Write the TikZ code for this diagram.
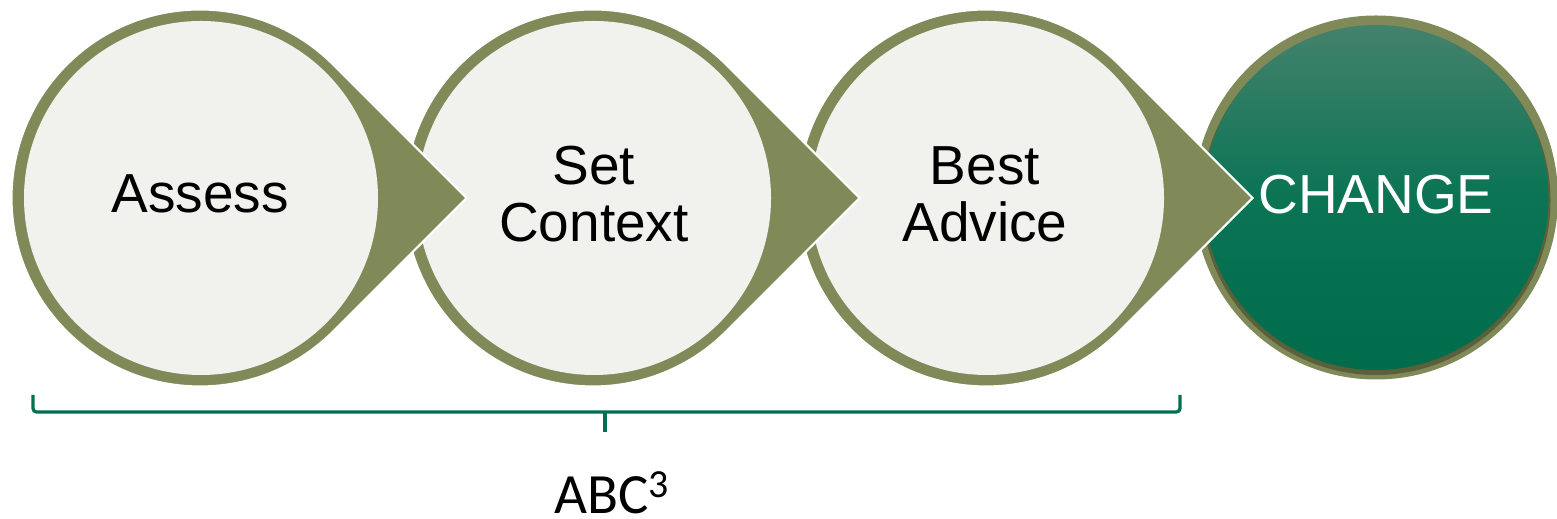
\documentclass[tikz,border=0pt]{standalone}
\usepackage{fontspec}
\setmainfont{Liberation Sans}
\newfontfamily\bracefont{Carlito}
\usetikzlibrary{calc}
\usetikzlibrary{positioning}
\definecolor{stepolive}{RGB}{128,137,88}
\definecolor{steplight}{RGB}{241,242,238}
\definecolor{ringshadow}{RGB}{92,96,58}
\definecolor{changetop}{RGB}{68,130,108}
\definecolor{changemid}{RGB}{10,116,84}
\definecolor{changebot}{RGB}{0,108,76}
\definecolor{bracegreen}{RGB}{0,112,80}

\begin{document}
\begin{tikzpicture}[x=0.02cm,y=0.02cm,
    steptext/.style={font=\fontsize{31.3}{32.4}\selectfont,align=center,inner sep=0pt},
    bracetext/.style={font=\bracefont\fontsize{32.4}{34}\selectfont,inner sep=0pt},
    bracket/.style={bracegreen,line width=1.8pt,rounded corners=2pt}]
    \pgfmathsetmacro{\R}{188.5}
    \pgfmathsetmacro{\r}{177}
    \pgfmathsetmacro{\d}{393}
    \useasboundingbox (0,0) rectangle (1557,519);
    \path (200,321) coordinate (A) ++(\d,0) coordinate (S) ++(\d,0) coordinate (B)
    (1376,321.5) coordinate (C);
    
    % last step
    \fill[stepolive] (C) circle (182);
    \fill[ringshadow] ($(C)+(0,-3)$) circle (174.5);
    \shade[top color=changetop,bottom color=changebot,middle color=changemid] (C) circle (172.5);
    
    % pointed circles, drawn right to left so each tip lies on the next one
    \foreach \c in {B,S,A}{
        \fill[stepolive,draw=white,line width=1.2pt] ($(\c)+(45:\R)$)
        arc[start angle=45,end angle=315,radius=\R] -- ($(\c)+(1.4142*\R,0)$) -- cycle;
        \fill[steplight] ($(\c)+(1,0)$) circle (\r);
    }
    
    \node[steptext] (assess) at ($(A)+(0,4)$) {Assess};
    \node[steptext] (context) at ($(S)+(1,4)$) {Set\\Context};
    \node[steptext] (advice) at ($(B)+(-1,4)$) {Best\\Advice};
    \node[steptext,white] (change) at ($(C)+(0,3)$) {CHANGE};
    
    \path (33,124) coordinate (bl) (1180,124) coordinate (br) (605,107) coordinate (bm);
    \draw[bracket] (bl) -- ++(0,-17) -| (br);
    \draw[bracket] (bm) -- ++(0,-20) coordinate (tip);
    \node[bracetext] (abc) at (612,26) {ABC\textsuperscript{3}};
    
\end{tikzpicture}
\end{document}
